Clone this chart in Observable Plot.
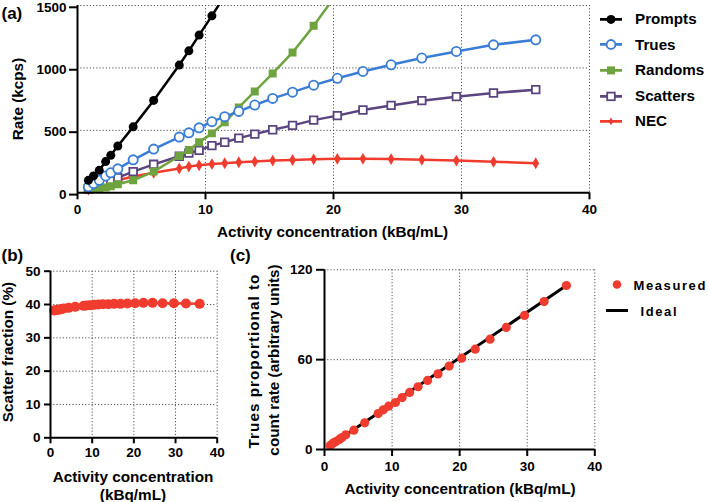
<!DOCTYPE html>
<html>
<head>
<meta charset="utf-8">
<script src="https://cdn.jsdelivr.net/npm/d3@7"></script>
<script src="https://cdn.jsdelivr.net/npm/@observablehq/plot@0.6"></script>
<style>
  html, body { margin: 0; padding: 0; background: #fff; }
  #root { position: relative; width: 709px; height: 502px; overflow: hidden; background: #fff;
          font-family: "Liberation Sans", Arial, sans-serif; font-weight: bold; color: #000; }
  .abs { position: absolute; white-space: nowrap; line-height: 1; }
  .t15 { font-size: 15.3px; }
  .panel { font-size: 17px; }
  .rot { transform: translate(-50%, -50%) rotate(-90deg); transform-origin: center; }
  .ctr { transform: translate(-50%, -50%); }
  .leg { position: absolute; display: flex; align-items: center; transform: translateY(-50%); line-height: 1; }
  .plot { position: absolute; }
</style>
</head>
<body>
<div id="root"></div>
<script>
// ---------------- data ----------------
const conc = [0.85, 1.25, 1.7, 2.2, 2.6, 3.15, 4.35, 5.95, 7.95, 8.7, 9.5, 10.5, 11.5, 12.6, 13.85, 15.25, 16.8, 18.45, 20.3, 22.3, 24.5, 26.9, 29.6, 32.5, 35.8];
const prompts = [100, 135, 180, 250, 300, 375, 528, 740, 1023, 1137, 1263, 1417, 1580];
const trues = [48, 75, 100, 135, 160, 192, 264, 350, 446, 480, 520, 570, 610, 652, 703, 756, 806, 862, 917, 972, 1025, 1079, 1132, 1185, 1225];
const randoms = [12, 20, 30, 42, 52, 68, 100, 170, 295, 343, 404, 476, 564, 684, 812, 956, 1124, 1337, 1600];
const scatters = [30, 47, 62, 84, 100, 121, 169, 228, 293, 318, 340, 378, 405, 438, 470, 505, 540, 582, 618, 663, 700, 738, 770, 799, 826];
const nec = [25, 42, 57, 74, 86, 100, 130, 160, 195, 210, 220, 230, 237, 245, 250, 258, 263, 268, 272, 272, 270, 265, 258, 248, 237];
const scatterFraction = [38.2, 38.3, 38.4, 38.5, 38.6, 38.8, 39.0, 39.3, 39.6, 39.7, 39.8, 39.9, 40.0, 40.1, 40.1, 40.2, 40.2, 40.3, 40.4, 40.5, 40.5, 40.4, 40.4, 40.3, 40.2];
const truesScaled = [2.7, 4.2, 5.3, 6.7, 8.0, 9.8, 12.9, 17.8, 24.0, 26.5, 28.9, 31.4, 34.7, 38.1, 41.9, 46.1, 50.5, 55.7, 61.0, 67.0, 73.7, 81.5, 89.5, 98.8, 109.5];
const idealX = [0.85, 35.8];
const idealY = [2.6, 109.5];

const xTicks = [0, 10, 20, 30, 40];
const rateTicks = [0, 500, 1000, 1500];
const sfTicks = [0, 10, 20, 30, 40, 50];
const propTicks = [0, 60, 120];

const seriesNames = ["Prompts", "Trues", "Randoms", "Scatters", "NEC"];
const colors = { Prompts: "#000000", Trues: "#3a7dd6", Randoms: "#6fa33f", Scatters: "#5b4580", NEC: "#f03c2e" };

const rows = (ys, xs = conc) => ys.map((v, i) => ({ x: xs[i], y: v }));

const FONT = "Liberation Sans, Arial, sans-serif";
const baseStyle = { fontFamily: FONT, fontSize: "13.5px", fontWeight: "bold", color: "#000", background: "transparent", overflow: "visible" };
const gridOpts = { stroke: "#555", strokeOpacity: 1, strokeWidth: 1, strokeDasharray: "1.2,2" };
const fmt = d => String(d);
const axisCommon = { fontSize: 13.5, fontWeight: "bold", stroke: "#000", strokeWidth: 2, label: null, tickFormat: fmt };

const root = document.getElementById("root");
function place(el, left, top) { el.classList.add("plot"); el.style.left = left + "px"; el.style.top = top + "px"; root.appendChild(el); }
function text(str, cls, x, y, extra = "") {
  const d = document.createElement("div");
  d.className = "abs " + cls; d.textContent = str;
  d.style.left = x + "px"; d.style.top = y + "px";
  if (extra) d.style.cssText += extra;
  root.appendChild(d); return d;
}

// ---------------- panel (a) ----------------
const lw = 2.5;
const pa = Plot.plot({
  width: 600, height: 240,
  marginLeft: 77, marginRight: 11, marginTop: 5, marginBottom: 47.7,
  style: baseStyle,
  x: { domain: [0, 40], label: null },
  y: { domain: [0, 1500], label: null },
  marks: [
    Plot.gridX([10, 20, 30, 40], gridOpts),
    Plot.gridY([500, 1000, 1500], gridOpts),
    Plot.axisX(xTicks, { ...axisCommon, tickSize: 7, tickPadding: 5 }),
    Plot.axisY(rateTicks, { ...axisCommon, tickSize: 8, tickPadding: 3, dy: 1.8 }),
    // NEC
    Plot.line(rows(nec), { x: "x", y: "y", stroke: colors.NEC, strokeWidth: lw }),
    Plot.dot(rows(nec), { x: "x", y: "y", symbol: "diamond", r: 3.6, fill: colors.NEC }),
    // Scatters
    Plot.line(rows(scatters), { x: "x", y: "y", stroke: colors.Scatters, strokeWidth: lw }),
    Plot.dot(rows(scatters), { x: "x", y: "y", symbol: "square", r: 4.3, fill: "#fff", stroke: colors.Scatters, strokeWidth: 1.8 }),
    // Randoms
    Plot.line(rows(randoms), { x: "x", y: "y", stroke: colors.Randoms, strokeWidth: lw, clip: true }),
    Plot.dot(rows(randoms), { x: "x", y: "y", symbol: "square", r: 4.5, fill: colors.Randoms, clip: true }),
    // Trues
    Plot.line(rows(trues), { x: "x", y: "y", stroke: colors.Trues, strokeWidth: lw }),
    Plot.dot(rows(trues), { x: "x", y: "y", symbol: "circle", r: 4.6, fill: "#fff", stroke: colors.Trues, strokeWidth: 1.8 }),
    // Prompts
    Plot.line(rows(prompts), { x: "x", y: "y", stroke: colors.Prompts, strokeWidth: lw, clip: true }),
    Plot.dot(rows(prompts), { x: "x", y: "y", symbol: "circle", r: 4.5, fill: colors.Prompts, clip: true }),
    Plot.ruleX([0], { stroke: "#000", strokeWidth: 2 }),
    Plot.ruleY([0], { stroke: "#000", strokeWidth: 2 })
  ]
});
place(pa, 0, 0);

// legend (a)
const legY = [19, 44.7, 70, 96, 121];
const legSym = {
  Prompts: `<circle cx="12" cy="6" r="4.5" fill="#000"/>`,
  Trues: `<circle cx="12" cy="6" r="4.4" fill="#fff" stroke="${colors.Trues}" stroke-width="1.8"/>`,
  Randoms: `<rect x="8" y="2" width="8" height="8" fill="${colors.Randoms}"/>`,
  Scatters: `<rect x="8.2" y="2.2" width="7.6" height="7.6" fill="#fff" stroke="${colors.Scatters}" stroke-width="1.8"/>`,
  NEC: `<path d="M12,2.2 L14.3,6 L12,9.8 L9.7,6 Z" fill="${colors.NEC}"/>`
};
seriesNames.forEach((name, i) => {
  const d = document.createElement("div");
  d.className = "leg";
  d.style.left = "599px"; d.style.top = legY[i] + "px";
  d.innerHTML = `<svg width="24" height="12" style="display:block"><line x1="1" x2="23" y1="6" y2="6" stroke="${colors[name]}" stroke-width="2.8"/>${legSym[name]}</svg>` +
    `<span style="margin-left:12px;font-size:15.2px;">${name}</span>`;
  root.appendChild(d);
});

text("(a)", "panel", 1.5, 5);
text("Rate (kcps)", "t15 rot", 18, 99);
text("Activity concentration (kBq/mL)", "t15 ctr", 332.5, 232);

// ---------------- panel (b) ----------------
const pb = Plot.plot({
  width: 230, height: 220,
  marginLeft: 50, marginRight: 13.3, marginTop: 20.7, marginBottom: 32.7,
  style: baseStyle,
  x: { domain: [0, 40], label: null },
  y: { domain: [0, 50], label: null },
  marks: [
    Plot.gridX([10, 20, 30, 40], gridOpts),
    Plot.gridY([10, 20, 30, 40, 50], gridOpts),
    Plot.axisX(xTicks, { ...axisCommon, tickSize: 6, tickPadding: 4 }),
    Plot.axisY(sfTicks, { ...axisCommon, tickSize: 6, tickPadding: 4 }),
    Plot.line(rows(scatterFraction), { x: "x", y: "y", stroke: colors.NEC, strokeWidth: 2.5 }),
    Plot.dot(rows(scatterFraction), { x: "x", y: "y", r: 5, fill: colors.NEC }),
    Plot.ruleX([0], { stroke: "#000", strokeWidth: 2 }),
    Plot.ruleY([0], { stroke: "#000", strokeWidth: 2 })
  ]
});
place(pb, 0, 250);

text("(b)", "panel", 1.5, 247);
text("Scatter fraction (%)", "t15 rot", 8, 352);
text("Activity concentration", "t15 ctr", 133, 477);
text("(kBq/mL)", "t15 ctr", 133, 494.5);

// ---------------- panel (c) ----------------
const pc = Plot.plot({
  width: 375, height: 230,
  marginLeft: 94, marginRight: 10.7, marginTop: 19.3, marginBottom: 31,
  style: baseStyle,
  x: { domain: [0, 40], label: null },
  y: { domain: [0, 120], label: null },
  marks: [
    Plot.gridX([10, 20, 30, 40], gridOpts),
    Plot.gridY([60, 120], gridOpts),
    Plot.axisX(xTicks, { ...axisCommon, tickSize: 7, tickPadding: 5 }),
    Plot.axisY(propTicks, { ...axisCommon, tickSize: 8, tickPadding: 4 }),
    Plot.line(rows(idealY, idealX), { x: "x", y: "y", stroke: "#000", strokeWidth: 3 }),
    Plot.dot(rows(truesScaled), { x: "x", y: "y", r: 4.6, fill: colors.NEC }),
    Plot.ruleX([0], { stroke: "#000", strokeWidth: 2 }),
    Plot.ruleY([0], { stroke: "#000", strokeWidth: 2 })
  ]
});
place(pc, 230, 250);

text("(c)", "panel", 230, 247);
text("Trues proportional to", "t15 rot", 253.5, 361, "letter-spacing:1px;");
text("count rate (arbitrary units)", "t15 rot", 273.5, 360);
text("Activity concentration (kBq/mL)", "t15 ctr", 460, 488.5);

// legend (c)
const legC = [
  { name: "Measured", y: 284.5, sw: `<circle cx="12" cy="6" r="4.3" fill="${colors.NEC}"/>` },
  { name: "Ideal", y: 310.5, sw: `<line x1="1" x2="23" y1="6" y2="6" stroke="#000" stroke-width="3"/>` }
];
legC.forEach((it, i) => {
  const d = document.createElement("div");
  d.className = "leg";
  d.style.left = "605px"; d.style.top = it.y + "px";
  d.innerHTML = `<svg width="24" height="12" style="display:block">${it.sw}</svg>` +
    `<span style="margin-left:${i === 0 ? 4.5 : 11.5}px;font-size:13px;letter-spacing:1.6px;">${it.name}</span>`;
  root.appendChild(d);
});
</script>
</body>
</html>
